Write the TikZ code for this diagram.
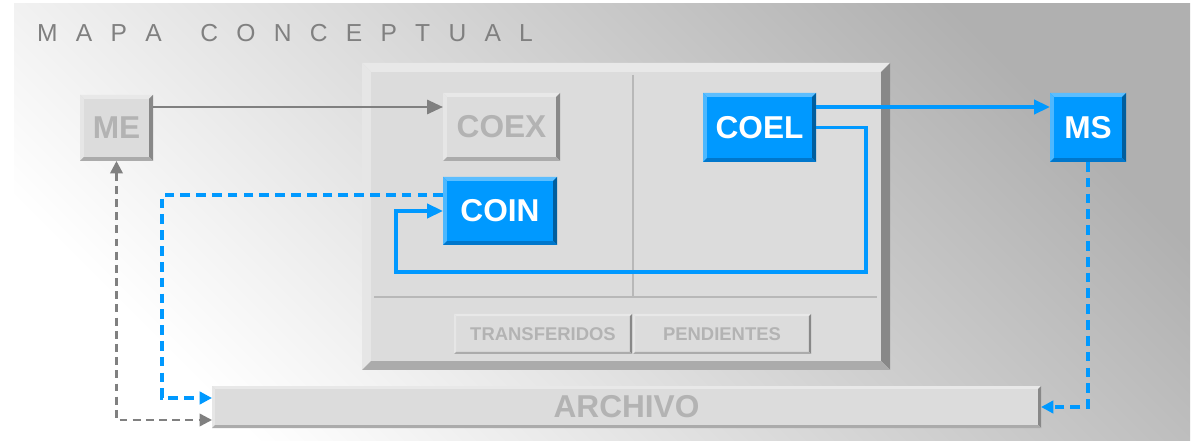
\documentclass[tikz,border=0pt]{standalone}
\usepackage{fontspec}
\setmainfont{Liberation Sans}
\usetikzlibrary{arrows.meta,calc}
\definecolor{blu}{HTML}{0099FF}
\definecolor{blutop}{HTML}{5CBEFF}
\definecolor{bluleft}{HTML}{4DB8FF}
\definecolor{bluright}{HTML}{005E9E}
\definecolor{blubot}{HTML}{0077CC}
\definecolor{gface}{HTML}{DCDCDC}
\definecolor{gtop}{HTML}{E8E8E8}
\definecolor{gleft}{HTML}{E6E6E6}
\definecolor{gright}{HTML}{888888}
\definecolor{gbot}{HTML}{ABABAB}
\definecolor{gtext}{HTML}{B3B3B3}
\definecolor{ttext}{HTML}{808080}
\definecolor{gline}{HTML}{808080}
\definecolor{divline}{HTML}{B8B8B8}
\newcommand\bevel[6]{%
  \fill[#3] (#1.north west) -- (#1.north east) -- ([shift={(-#2,-#2)}]#1.north east) -- ([shift={(#2,-#2)}]#1.north west) -- cycle;
  \fill[#4] (#1.north west) -- ([shift={(#2,-#2)}]#1.north west) -- ([shift={(#2,#2)}]#1.south west) -- (#1.south west) -- cycle;
  \fill[#5] (#1.north east) -- (#1.south east) -- ([shift={(-#2,#2)}]#1.south east) -- ([shift={(-#2,-#2)}]#1.north east) -- cycle;
  \fill[#6] (#1.south west) -- ([shift={(#2,#2)}]#1.south west) -- ([shift={(-#2,#2)}]#1.south east) -- (#1.south east) -- cycle;
}
\newcommand\graybev[2]{\bevel{#1}{#2}{gtop}{gleft}{gright}{gbot}}
\newcommand\bluebev[1]{\bevel{#1}{2.2pt}{blutop}{bluleft}{bluright}{blubot}}
\newcommand\tls{\hspace{10.4pt}}
\begin{document}
\begin{tikzpicture}[x=0.02cm,y=-0.02cm,
  box/.style={rectangle,inner sep=0pt,outer sep=0pt,font=\fontsize{18}{21}\selectfont\bfseries},
  graybox/.style={box,fill=gface,text=gtext},
  bluebox/.style={box,fill=blu,text=white},
  smallbox/.style={box,fill=gface,text=gtext,font=\fontsize{10.5}{12}\selectfont\bfseries},
  sz/.style 2 args={minimum width=#1*0.02cm,minimum height=#2*0.02cm},
  solidblue/.style={draw=blu,line width=2pt,-{Triangle[length=9pt,width=8pt]}},
  solidgray/.style={draw=gline,line width=1.4pt,-{Triangle[length=9pt,width=8pt]}},
  dashblue/.style={draw=blu,line width=1.8pt,dash pattern=on 5.5pt off 3.5pt,-{Triangle[length=7pt,width=7pt]}},
  dashgray/.style={draw=gline,line width=1.4pt,dash pattern=on 4.5pt off 3pt,{Triangle[length=7pt,width=7pt]}-{Triangle[length=7pt,width=7pt]}},
]
\useasboundingbox (0,0) rectangle (1194,442);
\fill[white] (0,0) rectangle (1194,442);
\shade[top color=gray!62, bottom color=white, shading angle=-45] (14,4) rectangle (1190,440);

\node[anchor=west,text=ttext,font=\fontsize{14}{16}\selectfont] (title) at (31,33)
  {M\tls A\tls P\tls A\hspace{22pt}C\tls O\tls N\tls C\tls E\tls P\tls T\tls U\tls A\tls L};

% panel
\node[box,fill=gface,sz={528}{307}] (panel) at (626,216.5) {};
\bevel{panel}{5pt}{gtop}{gleft}{gright}{gbot}
\draw[divline,line width=0.9pt] (633,75) -- (633,297);
\draw[divline,line width=0.9pt] (374,297) -- (877,297);

% boxes
\node[graybox,sz={73}{66}] (me) at (116.5,128) {ME};
\graybev{me}{2.2pt}
\node[graybox,sz={117}{68}] (coex) at (501.5,127) {COEX};
\graybev{coex}{2.2pt}
\node[bluebox,sz={114}{68}] (coin) at (500,211) {COIN};
\bluebev{coin}
\node[bluebox,sz={113}{69}] (coel) at (759.5,127.5) {COEL};
\bluebev{coel}
\node[bluebox,sz={76}{69}] (ms) at (1088,127.5) {MS};
\bluebev{ms}
\node[smallbox,sz={178}{40}] (transf) at (543,334) {TRANSFERIDOS};
\graybev{transf}{1.2pt}
\node[smallbox,sz={178}{40}] (pend) at (722,334) {PENDIENTES};
\graybev{pend}{1.2pt}
\node[graybox,sz={829}{42}] (archivo) at (626.5,407) {ARCHIVO};
\graybev{archivo}{1.6pt}

% connectors
\draw[solidgray] (me.east |- 0,107) -- (coex.west |- 0,107);
\draw[solidblue] (coel.east |- 0,107) -- (ms.west |- 0,107);
\draw[solidblue] (coel.east) -- (866,127.5) -- (866,272) -- (396,272) -- (396,211) -- (coin.west);
\draw[dashblue] (coin.west |- 0,195) -- (162,195) -- (162,398) -- (archivo.west |- 0,398);
\draw[dashgray] (me.south) -- (116.5,420) -- (archivo.west |- 0,420);
\draw[dashblue] (ms.south) -- (1088,407) -- (archivo.east);
\end{tikzpicture}
\end{document}
